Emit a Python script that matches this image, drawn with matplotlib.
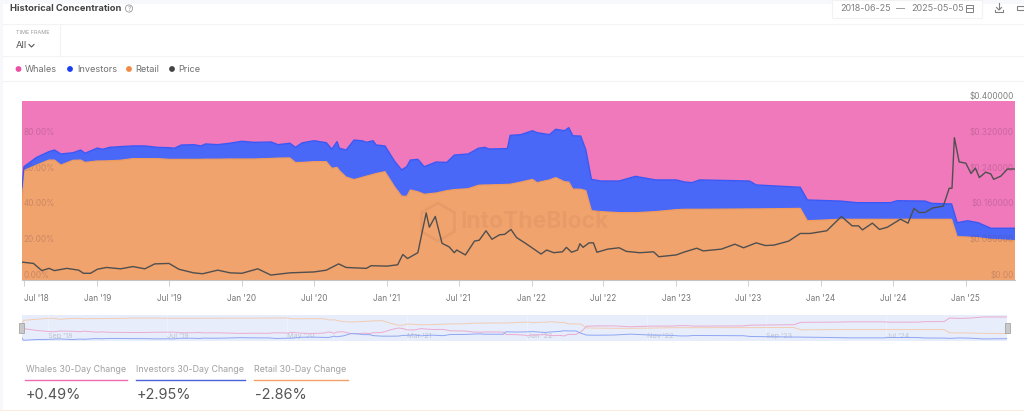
import numpy as np
import pandas as pd
import matplotlib
matplotlib.use("Agg")
import matplotlib.pyplot as plt
from matplotlib.patches import Circle, Rectangle, RegularPolygon

plt.rcParams['font.family'] = ['Inter', 'DejaVu Sans']

# ------------------------------
# Data
# ------------------------------
conc_dates = [
    "2018-06-25", "2018-06-30", "2018-08-01", "2018-09-01", "2018-09-15", "2018-10-01", "2018-11-01", "2018-11-20",
    "2018-12-01", "2019-01-01", "2019-01-15", "2019-02-01", "2019-03-01", "2019-04-01", "2019-05-01", "2019-06-01",
    "2019-07-01", "2019-07-15", "2019-08-01", "2019-09-01", "2019-09-20", "2019-10-01", "2019-11-01", "2019-12-01",
    "2020-01-01", "2020-02-01", "2020-03-15", "2020-04-01", "2020-05-01", "2020-05-15", "2020-06-01", "2020-07-01",
    "2020-08-01", "2020-08-15", "2020-08-28", "2020-09-03", "2020-09-20", "2020-10-10", "2020-11-01", "2020-11-10",
    "2020-11-27", "2020-12-05", "2020-12-27", "2021-01-21", "2021-02-07", "2021-02-20", "2021-03-01", "2021-03-20",
    "2021-04-05", "2021-05-05", "2021-06-01", "2021-06-20", "2021-07-25", "2021-08-20", "2021-09-05", "2021-09-15",
    "2021-11-01", "2021-11-08", "2021-12-05", "2022-01-03", "2022-01-15", "2022-02-15", "2022-03-03", "2022-03-25",
    "2022-04-05", "2022-04-15", "2022-05-05", "2022-05-18", "2022-06-01", "2022-06-25", "2022-08-10", "2022-09-20",
    "2022-11-10", "2023-01-01", "2023-01-23", "2023-02-10", "2023-03-01", "2023-07-05", "2023-07-22", "2023-11-10",
    "2023-11-28", "2024-02-20", "2024-04-01", "2024-06-25", "2024-07-12", "2024-09-20", "2024-10-07", "2024-11-26",
    "2024-12-10", "2025-01-05", "2025-02-01", "2025-03-05", "2025-05-05",
]
retail = [
    41.0, 61.1, 64.2, 67.0, 67.0, 64.2, 66.9, 67.0,
    65.7, 66.5, 66.5, 66.6, 66.9, 67.8, 67.8, 67.8,
    67.4, 67.4, 67.4, 67.4, 67.4, 67.5, 67.5, 67.6,
    67.6, 67.6, 67.9, 68.1, 68.2, 65.6, 65.7, 66.1,
    66.1, 62.4, 62.9, 61.1, 57.5, 56.1, 57.4, 58.0,
    59.0, 59.5, 60.5, 51.8, 46.9, 46.7, 50.3, 49.3,
    47.9, 48.6, 49.9, 50.5, 51.0, 52.9, 53.1, 53.1,
    53.4, 53.5, 54.7, 56.2, 54.4, 55.9, 57.2, 54.9,
    54.7, 50.8, 50.7, 49.9, 38.7, 38.2, 37.6, 37.6,
    38.2, 39.3, 39.5, 39.5, 39.5, 39.7, 39.7, 40.0,
    33.1, 33.9, 33.9, 33.9, 33.9, 33.9, 33.9, 33.9,
    24.2, 24.0, 23.6, 22.7, 22.0,
]
investors = [
    11.1, 2.2, 4.3, 4.7, 5.6, 6.2, 4.2, 5.6,
    5.1, 7.2, 6.5, 7.5, 7.6, 7.1, 7.1, 6.3,
    6.5, 6.2, 8.0, 8.2, 7.5, 8.5, 8.1, 8.8,
    9.9, 9.3, 9.2, 7.5, 8.2, 8.5, 10.9, 11.7,
    10.6, 10.6, 14.4, 12.5, 15.1, 22.1, 20.3, 18.9,
    18.8, 15.9, 14.4, 14.3, 14.6, 16.6, 16.7, 18.1,
    15.4, 17.3, 15.8, 19.3, 19.4, 20.7, 21.0, 20.1,
    20.0, 27.3, 26.5, 27.2, 27.9, 25.3, 27.0, 28.5,
    30.4, 29.8, 29.7, 22.7, 17.5, 17.1, 17.7, 20.3,
    17.7, 16.6, 15.2, 14.9, 16.4, 15.6, 13.4, 11.8,
    11.6, 10.2, 9.3, 9.3, 10.4, 10.2, 8.9, 8.6,
    7.8, 9.1, 8.4, 6.2, 6.9,
]
whales = [
    47.9, 36.7, 31.5, 28.3, 27.4, 29.6, 28.9, 27.4,
    29.2, 26.3, 27.0, 25.9, 25.5, 25.1, 25.1, 25.9,
    26.1, 26.4, 24.6, 24.4, 25.1, 24.0, 24.4, 23.6,
    22.5, 23.1, 22.9, 24.4, 23.6, 25.9, 23.4, 22.2,
    23.3, 27.0, 22.7, 26.4, 27.4, 21.8, 22.3, 23.1,
    22.2, 24.6, 25.1, 33.9, 38.5, 36.7, 33.0, 32.6,
    36.7, 34.1, 34.3, 30.2, 29.6, 26.4, 25.9, 26.8,
    26.6, 19.2, 18.8, 16.6, 17.7, 18.8, 15.8, 16.6,
    14.9, 19.4, 19.6, 27.4, 43.8, 44.7, 44.7, 42.1,
    44.1, 44.1, 45.3, 45.6, 44.1, 44.7, 46.9, 48.2,
    55.3, 55.9, 56.8, 56.8, 55.7, 55.9, 57.2, 57.5,
    68.0, 66.9, 68.0, 71.1, 71.1,
]

price_dates = [
    "2018-06-25", "2018-07-24", "2018-08-14", "2018-09-01", "2018-09-15", "2018-10-16", "2018-11-15", "2018-11-27",
    "2018-12-15", "2019-01-01", "2019-01-24", "2019-03-01", "2019-04-01", "2019-05-01", "2019-05-26", "2019-07-01",
    "2019-07-26", "2019-09-01", "2019-09-24", "2019-11-01", "2019-12-02", "2020-01-01", "2020-02-10", "2020-03-14",
    "2020-05-01", "2020-07-01", "2020-08-01", "2020-09-01", "2020-09-20", "2020-11-10", "2020-11-22", "2021-01-01",
    "2021-01-28", "2021-02-10", "2021-02-22", "2021-03-20", "2021-04-10", "2021-04-18", "2021-05-03", "2021-05-20",
    "2021-06-07", "2021-06-20", "2021-06-26", "2021-07-18", "2021-08-10", "2021-08-22", "2021-09-08", "2021-09-23",
    "2021-10-12", "2021-10-25", "2021-11-10", "2021-11-24", "2021-12-20", "2022-01-25", "2022-02-08", "2022-02-26",
    "2022-03-20", "2022-03-30", "2022-04-12", "2022-04-27", "2022-05-03", "2022-05-11", "2022-05-26", "2022-06-06",
    "2022-06-15", "2022-07-12", "2022-08-10", "2022-08-28", "2022-10-01", "2022-11-05", "2022-11-18", "2023-01-01",
    "2023-01-23", "2023-02-22", "2023-03-10", "2023-04-25", "2023-05-29", "2023-06-20", "2023-07-22", "2023-08-14",
    "2023-09-05", "2023-10-12", "2023-11-10", "2023-12-05", "2024-01-16", "2024-02-22", "2024-03-20", "2024-04-05",
    "2024-04-15", "2024-05-10", "2024-05-28", "2024-06-17", "2024-07-20", "2024-08-08", "2024-08-23", "2024-09-05",
    "2024-09-20", "2024-10-09", "2024-11-05", "2024-11-20", "2024-11-27", "2024-12-03", "2024-12-15", "2025-01-01",
    "2025-01-14", "2025-01-25", "2025-02-04", "2025-02-20", "2025-03-05", "2025-03-12", "2025-03-30", "2025-04-16",
    "2025-05-05",
]
price = [
    .040, .037, .021, .026, .021, .026, .022, .015,
    .015, .024, .028, .025, .030, .025, .036, .037,
    .024, .016, .014, .022, .016, .015, .025, .011,
    .016, .018, .022, .036, .028, .026, .032, .031,
    .034, .057, .048, .061, .150, .118, .142, .082,
    .074, .061, .067, .056, .087, .089, .110, .091,
    .101, .102, .113, .095, .080, .058, .067, .061,
    .063, .073, .062, .067, .081, .073, .083, .083,
    .062, .069, .072, .064, .061, .063, .052, .056,
    .063, .071, .065, .069, .080, .072, .083, .077,
    .078, .087, .104, .104, .110, .142, .121, .121,
    .112, .127, .113, .118, .136, .127, .160, .151,
    .151, .161, .165, .205, .205, .318, .264, .261,
    .238, .250, .229, .241, .237, .225, .232, .248,
    .248,
]

month_ticks = ["2018-07-01", "2019-01-01", "2019-07-01", "2020-01-01", "2020-07-01", "2021-01-01", "2021-07-01",
               "2022-01-01", "2022-07-01", "2023-01-01", "2023-07-01", "2024-01-01", "2024-07-01", "2025-01-01"]
month_labels = ["Jul '18", "Jan '19", "Jul '19", "Jan '20", "Jul '20", "Jan '21", "Jul '21",
                "Jan '22", "Jul '22", "Jan '23", "Jul '23", "Jan '24", "Jul '24", "Jan '25"]
pct_ticks = [0, 20, 40, 60, 80]
pct_labels = ["0.00%", "20.00%", "40.00%", "60.00%", "80.00%"]
price_ticks = [0, .08, .16, .24, .32, .40]
price_labels = ["$0.00", "$0.080000", "$0.160000", "$0.240000", "$0.320000", "$0.400000"]
nav_ticks = ["2018-09-01", "2019-07-01", "2020-05-01", "2021-03-01", "2022-01-01", "2022-11-01", "2023-09-01", "2024-07-01"]
nav_labels = ["Sep '18", "Jul '19", "May '20", "Mar '21", "Jan '22", "Nov '22", "Sep '23", "Jul '24"]
legend_names = ["Whales", "Investors", "Retail", "Price"]
change_names = ["Whales 30-Day Change", "Investors 30-Day Change", "Retail 30-Day Change"]
change_values = ["+0.49%", "+2.95%", "-2.86%"]

WHALE_C, INV_C, RETAIL_C = "#ef79ba", "#4968f8", "#f1a36d"
W, H = 1024, 411
x_range = pd.to_datetime(["2018-06-25", "2025-05-05"])
conc_x = pd.to_datetime(conc_dates)
price_x = pd.to_datetime(price_dates)


def px_axes(x0, y0, x1, y1):
    return fig.add_axes([x0 / W, 1 - y1 / H, (x1 - x0) / W, (y1 - y0) / H])


fig = plt.figure(figsize=(W / 100, H / 100), dpi=100, facecolor="white")

# ------------------------------
# Page chrome, in pixel coordinates
# ------------------------------
bg = fig.add_axes([0, 0, 1, 1], zorder=3)
bg.set_xlim(0, W)
bg.set_ylim(H, 0)
bg.axis("off")
bg.patch.set_alpha(0)
bg.add_patch(Rectangle((0, 0), W, 4, color="#f7f8fb", lw=0))
bg.add_patch(Rectangle((0, 0), 3, H, color="#f7f8fb", lw=0))
bg.add_patch(Rectangle((0, 409.5), W, 1.5, color="#fbeadd", lw=0))
for yy in [24, 56, 81]:
    bg.plot([3, W], [yy, yy], color="#f3f3f5", lw=0.8)
bg.plot([60, 60], [24, 56], color="#f3f3f5", lw=0.8)
bg.add_patch(Rectangle((832, 0), 150, 18, fc="white", ec="#f2f2f4", lw=0.8))

bg.text(10, 8.5, "Historical Concentration", fontsize=6.7, fontweight="bold", color="#444444", va="center")
bg.add_patch(Circle((129, 8.5), 3.6, fc="none", ec="#9a9a9a", lw=0.6))
bg.text(129, 8.7, "?", fontsize=4.5, color="#8a8a8a", ha="center", va="center")
bg.text(16, 32.5, "TIME FRAME", fontsize=3.9, color="#9a9a9a", va="center")
bg.text(16, 45.5, "All", fontsize=6.8, color="#555555", va="center")
bg.plot([29, 31.5, 34], [44.5, 47, 44.5], color="#555555", lw=0.8)

bg.text(840, 8.5, "2018-06-25", fontsize=6.5, color="#808080", va="center")
bg.text(901, 8.5, "\u2014", fontsize=6.5, color="#808080", va="center", ha="center")
bg.text(911, 8.5, "2025-05-05", fontsize=6.5, color="#808080", va="center")
bg.add_patch(Rectangle((966, 5), 7, 7, fc="none", ec="#808080", lw=0.7))
bg.plot([966, 973], [8, 8], color="#808080", lw=0.7)
# download and share icons
bg.plot([999, 999], [3, 9.5], color="#808080", lw=0.8)
bg.plot([996.5, 999, 1001.5], [7.5, 10, 7.5], color="#808080", lw=0.8)
bg.plot([995, 995, 1003, 1003], [10.5, 12, 12, 10.5], color="#808080", lw=0.8)
bg.add_patch(Rectangle((1017, 6.5), 7, 4, fc="none", ec="#808080", lw=0.8))

for xx, tx, col, name in zip([18.5, 70, 129, 172], [25, 77, 135, 178],
                             ["#ec4fa6", "#1b3ff0", "#f08a45", "#444444"], legend_names):
    bg.add_patch(Circle((xx, 69), 2.9, color=col, lw=0))
    bg.text(tx, 69, name, fontsize=6.6, color="#707070", va="center")

# 30-day change blocks
for x0, x1, col, name, val in zip([25, 136, 254], [127, 245, 348],
                                  ["#ec6cb4", "#4a63d8", "#f2a066"], change_names, change_values):
    bg.text(x0 + 0.5, 369, name, fontsize=6.4, color="#a0a0a0", va="center")
    bg.plot([x0, x1], [379.5, 379.5], color=col, lw=1)
    bg.text(x0 + 0.5, 395, val, fontsize=10.4, color="#555555", va="center")

# watermark, kept in pixel coordinates so the hexagon stays regular
bg.text(460, 222, "IntoTheBlock", fontsize=16.5, fontweight="bold", color=(0.45, 0.25, 0.2, 0.08), va="center")
bg.add_patch(RegularPolygon((438, 222), 6, radius=19, fc="none", ec=(0.45, 0.25, 0.2, 0.08), lw=2))

# ------------------------------
# Main chart
# ------------------------------
ax = px_axes(22, 101, 1015, 280)
ax.stackplot(conc_x, retail, investors, whales, colors=[RETAIL_C, INV_C, WHALE_C], lw=0)
r = np.array(retail)
b = r + np.array(investors)
ax.plot(conc_x, r, color="#f09a5c", lw=0.9)
ax.plot(conc_x, b, color="#3a58f5", lw=1.0)
ax.set_xlim(x_range[0], x_range[1])
ax.set_ylim(0, 100)
for side in ["top", "left", "right"]:
    ax.spines[side].set_visible(False)
ax.spines["bottom"].set_color("#c4c4c4")
ax.spines["bottom"].set_linewidth(0.8)
ax.set_xticks(pd.to_datetime(month_ticks))
ax.set_xticklabels(month_labels)
ax.tick_params(axis="x", length=4, width=0.6, color="#c8c8c8", labelsize=5.9, labelcolor="#777777", pad=6)
ax.get_xticklabels()[0].set_ha("left")
ax.set_yticks(pct_ticks)
ax.set_yticklabels(pct_labels)
ax.tick_params(axis="y", length=0, pad=-1, labelsize=5.9, labelcolor=(0.35, 0.2, 0.3, 0.25))
plt.setp(ax.get_yticklabels(), ha="left", va="bottom")

ax2 = ax.twinx()
ax2.plot(price_x, price, color="#4f4f4f", lw=1.0)
ax2.set_ylim(0, 0.4)
ax2.set_yticks(price_ticks)
ax2.set_yticklabels(price_labels)
ax2.tick_params(axis="y", length=0, pad=-1, labelsize=5.9, labelcolor=(0.35, 0.2, 0.3, 0.25))
plt.setp(ax2.get_yticklabels(), ha="right", va="bottom")
ax2.get_yticklabels()[-1].set_color("#808080")
for side in ax2.spines:
    ax2.spines[side].set_visible(False)

# ------------------------------
# Navigator strip
# ------------------------------
nav = px_axes(21.5, 315, 1007, 341)
nav.set_facecolor("#e7edfb")
nav.plot(conc_x, retail, color="#f2cdb4", lw=0.7)
nav.plot(conc_x, whales, color="#ecabd2", lw=0.7)
nav.plot(conc_x, investors, color="#8fa6f3", lw=0.7)
nav.set_xlim(x_range[0], x_range[1])
nav.set_ylim(0, 77)
for side in nav.spines:
    nav.spines[side].set_visible(False)
nav.set_yticks([])
nav.set_xticks(pd.to_datetime(nav_ticks))
nav.set_xticklabels(nav_labels)
nav.tick_params(axis="x", length=0, pad=-5.5, labelsize=5.2, labelcolor="#c0c4d0")
plt.setp(nav.get_xticklabels(), ha="left")
nav.grid(axis="x", color="#f0f3fc", lw=0.6)
nav.set_axisbelow(True)

# navigator handles
for xx in [21.5, 1007]:
    bg.add_patch(Rectangle((xx - 2.5, 323), 5, 10, fc="#c9c9c9", ec="#9a9a9a", lw=0.5, zorder=5))

fig.savefig("out.png", dpi=100)
